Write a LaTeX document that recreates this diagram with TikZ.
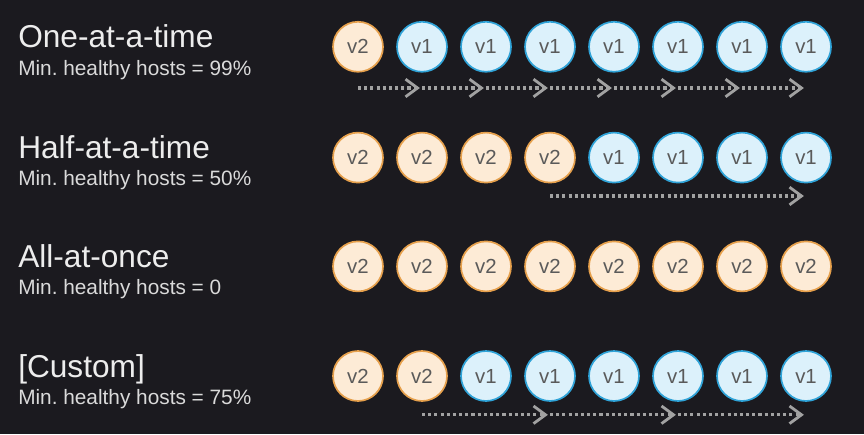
\documentclass[tikz,border=0pt]{standalone}
\usepackage{fontspec}
\setmainfont{Liberation Sans}
\usetikzlibrary{arrows.meta}
\definecolor{cBg}{HTML}{1B1A1F}
\definecolor{cNew}{HTML}{E6A04C}
\definecolor{cNewBg}{HTML}{FDEBD6}
\definecolor{cOld}{HTML}{2FA3D8}
\definecolor{cOldBg}{HTML}{DCF1FB}
\definecolor{cInk}{HTML}{5A5A5A}
\definecolor{cMove}{HTML}{A2A2A2}
\definecolor{cTxt}{HTML}{EDEDED}
\frenchspacing

\begin{document}
\begin{tikzpicture}[
  host/.style 2 args={circle, draw=#1, fill=#2, line width=1.2pt, minimum size=1.25cm,
                      inner sep=0pt, text=cInk, font=\fontsize{14.5}{16}\selectfont},
  host2/.style={host={cNew}{cNewBg}},
  host1/.style={host={cOld}{cOldBg}},
  mv/.style={-{Straight Barb[length=3mm,width=4.4mm,line width=2pt]}, line width=2.2pt,
             draw=cMove, dash pattern=on 2.2pt off 2.2pt, shorten >=1.5pt},
  ttl/.style={anchor=base west, text=cTxt, inner sep=0pt, font=\fontsize{22.5}{26}\selectfont},
  sub/.style={anchor=base west, text=cTxt!92!black, inner sep=0pt, font=\fontsize{14.8}{17}\selectfont},
]
\fill[cBg] (0,0) rectangle (21.6,10.85);

% one row: name, y, title, subtitle, host versions
\newcommand{\deployrow}[5]{%
  \node[ttl] (#1t) at (0.45,#2-0.03) {#3};
  \node[sub] (#1s) at (0.45,#2-0.71) {#4};
  \foreach \v [count=\i] in {#5}
    \node[host\v] (#1h\i) at (7.35+1.6*\i,#2) {v\v};}

% ---------------- one at a time ----------------
\deployrow{r1}{9.68}{One-at-a-time}{Min. healthy hosts = 99\%}{2,1,1,1,1,1,1,1}
\foreach \i [evaluate=\i as \j using int(\i+1)] in {1,...,7}
  \draw[mv] ([yshift=-1.03cm]r1h\i.center) -- ([yshift=-1.03cm]r1h\j.center);

% ---------------- half at a time ----------------
\deployrow{r2}{6.91}{Half-at-a-time}{Min. healthy hosts = 50\%}{2,2,2,2,1,1,1,1}
\draw[mv] ([yshift=-0.96cm]r2h4.center) -- ([yshift=-0.96cm]r2h8.center);

% ---------------- all at once ----------------
\deployrow{r3}{4.19}{All-at-once}{Min. healthy hosts = 0}{2,2,2,2,2,2,2,2}

% ---------------- custom ----------------
\deployrow{r4}{1.45}{[Custom]}{Min. healthy hosts = 75\%}{2,2,1,1,1,1,1,1}
\draw[mv] ([yshift=-0.97cm]r4h2.center) -- ([yshift=-0.97cm]r4h4.center);
\draw[mv] ([yshift=-0.97cm]r4h4.center) -- ([yshift=-0.97cm]r4h6.center);
\draw[mv] ([yshift=-0.97cm]r4h6.center) -- ([yshift=-0.97cm]r4h8.center);

\end{tikzpicture}
\end{document}
